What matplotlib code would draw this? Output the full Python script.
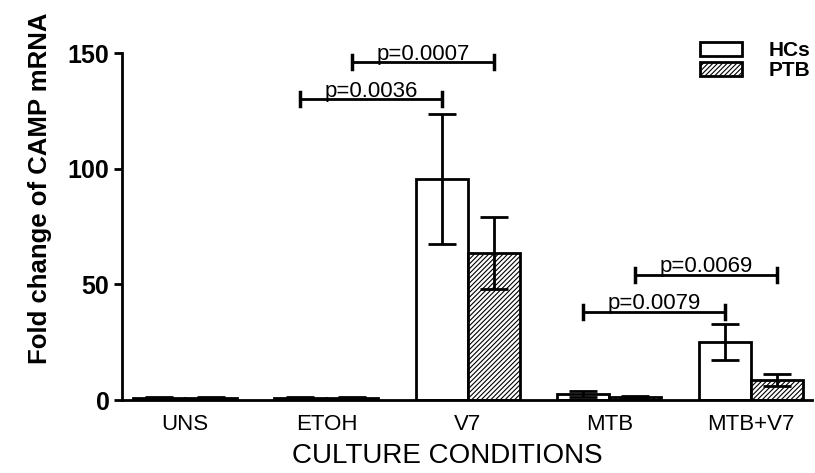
import numpy as np
import matplotlib
matplotlib.use("Agg")
import matplotlib.pyplot as plt

# data
conditions = ["UNS", "ETOH", "V7", "MTB", "MTB+V7"]
hcs_mean = [1.0, 1.0, 95.5, 2.6, 25.0]
hcs_err = [0.2, 0.2, 28.0, 1.2, 7.7]
ptb_mean = [1.0, 1.0, 63.5, 1.5, 8.7]
ptb_err = [0.2, 0.2, 15.5, 0.4, 2.5]

# significance brackets: (group_a, series_a, group_b, series_b, height, label)
brackets = [
    (1, "PTB", 2, "PTB", 146, "p=0.0007"),
    (1, "HCs", 2, "HCs", 130, "p=0.0036"),
    (3, "PTB", 4, "PTB", 54, "p=0.0069"),
    (3, "HCs", 4, "HCs", 38, "p=0.0079"),
]

plt.rcParams["font.family"] = ["Liberation Sans", "DejaVu Sans"]
plt.rcParams["hatch.linewidth"] = 0.8
plt.rcParams["hatch.color"] = "#555555"

fig = plt.figure(figsize=(8.15, 4.73), dpi=100)
ax = fig.add_axes([0.1497, 0.1543, 0.8463, 0.7336])

x = np.arange(len(conditions))
w = 0.367
off = {"HCs": -w / 2, "PTB": w / 2}

ax.bar(x + off["HCs"], hcs_mean, w, color="white", edgecolor="black",
       linewidth=2, label="HCs", zorder=2)
ax.bar(x + off["PTB"], ptb_mean, w, color="white", edgecolor="black",
       linewidth=2, hatch="///////", label="PTB", zorder=2)
ax.errorbar(x + off["HCs"], hcs_mean, yerr=hcs_err, fmt="none", ecolor="black",
            elinewidth=2, capsize=10, capthick=2, zorder=3)
ax.errorbar(x + off["PTB"], ptb_mean, yerr=ptb_err, fmt="none", ecolor="black",
            elinewidth=2, capsize=10, capthick=2, zorder=3)

# brackets
for ga, sa, gb, sb, h, txt in brackets:
    xa = x[ga] + off[sa]
    xb = x[gb] + off[sb]
    ax.plot([xa, xb], [h, h], color="black", lw=2, clip_on=False)
    for xx in (xa, xb):
        ax.plot([xx, xx], [h - 3, h + 3], color="black", lw=2.5, clip_on=False)
    ax.text((xa + xb) / 2, h - 1.0, txt, ha="center", va="bottom",
            fontsize=16, clip_on=False)

ax.set_xlim(-0.445, 4.431)
ax.set_ylim(0, 150)
ax.set_yticks([0, 50, 100, 150])
ax.set_xticks(x)
ax.set_xticklabels(conditions, fontsize=16)
for lbl in ax.get_yticklabels():
    lbl.set_fontweight("bold")
    lbl.set_fontsize(18)
ax.tick_params(axis="x", length=0, pad=10)
ax.tick_params(axis="y", length=6, width=2, pad=3)
for s in ["top", "right"]:
    ax.spines[s].set_visible(False)
for s in ["left", "bottom"]:
    ax.spines[s].set_linewidth(2)

fig.text(40 / 815, 1 - 188 / 473, "Fold change of CAMP mRNA", rotation=90,
         ha="center", va="center", fontsize=18.5, fontweight="bold")
fig.text(447 / 815, 1 - 456 / 473, "CULTURE CONDITIONS", ha="center",
         va="center", fontsize=20)

leg = ax.legend(loc="upper right", bbox_to_anchor=(0.998, 1.035), frameon=False,
                prop={"weight": "bold", "size": 15}, handlelength=2.0,
                handleheight=0.65, labelspacing=0.05, handletextpad=1.3,
                borderaxespad=0, borderpad=0)

fig.savefig("out.png", dpi=100)
